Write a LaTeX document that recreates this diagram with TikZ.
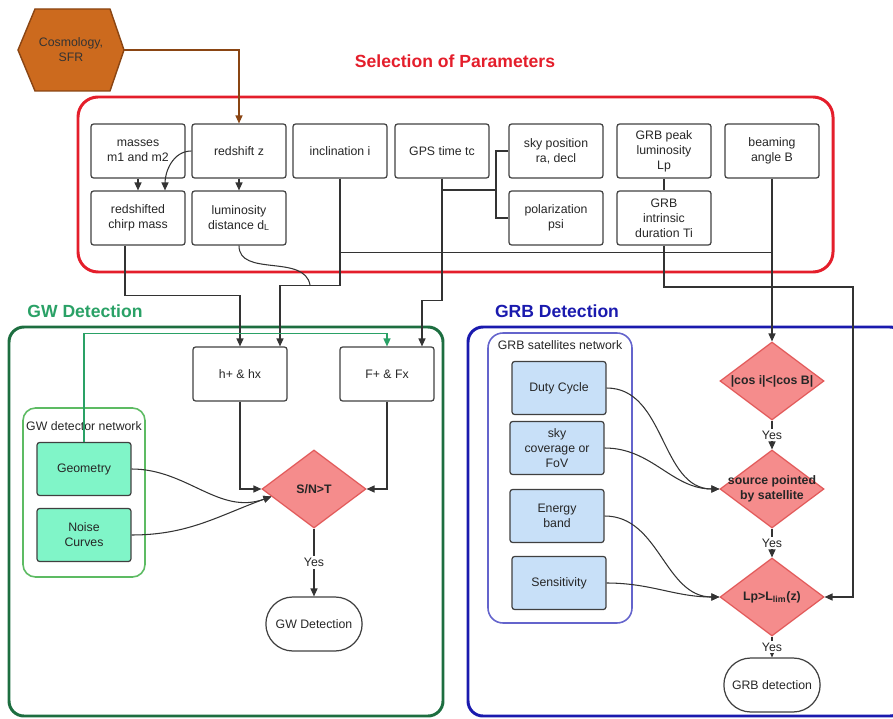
\documentclass[tikz,border=0pt]{standalone}
\usepackage{fontspec}
\setmainfont{Liberation Sans}
\usetikzlibrary{arrows.meta, positioning, shapes.geometric, shapes.misc}

\definecolor{selred}{HTML}{E41E2B}
\definecolor{gwdark}{HTML}{1D6E40}
\definecolor{gwtitle}{HTML}{2AA166}
\definecolor{gwlight}{HTML}{5DBB63}
\definecolor{grbblue}{HTML}{1A1AAE}
\definecolor{grblight}{HTML}{6464CC}
\definecolor{aquafill}{HTML}{80F5C8}
\definecolor{skyfill}{HTML}{C8E0F8}
\definecolor{decfill}{HTML}{F58C8C}
\definecolor{decline}{HTML}{E25A5A}
\definecolor{hexfill}{HTML}{CC6A1E}
\definecolor{hexline}{HTML}{8A4513}

\begin{document}
\begin{tikzpicture}[
        x=0.02cm, y=0.02cm,
        >={Triangle[length=4.5pt, width=4pt]},
        every node/.style={font=\fontsize{7}{8.5}\selectfont, align=center, text=black!85},
        param/.style={rectangle, draw=black!75, line width=0.7pt, rounded corners=1.5pt,
            minimum width=1.88cm, minimum height=1.08cm, inner sep=1pt},
        detbox/.style={param, fill=aquafill, minimum height=1.06cm},
        satbox/.style={param, fill=skyfill, minimum height=1.06cm},
        dec/.style={diamond, draw=decline, fill=decfill, line width=0.7pt,
            minimum width=2.08cm, minimum height=1.56cm, inner sep=0pt},
        dectext/.style={font=\fontsize{7}{8.5}\selectfont\bfseries},
        outcome/.style={rounded rectangle, draw=black!75, line width=0.7pt,
            minimum width=2.16cm, minimum height=1.08cm},
        wire/.style={draw=black!80, line width=0.6pt},
        yes/.style={fill=white, inner sep=1pt},
        heading/.style={font=\fontsize{10}{12}\selectfont\bfseries}
    ]
    \useasboundingbox (0,0) rectangle (893,718);

    % frames of the three blocks
    \draw[selred, line width=1.7pt, rounded corners=0.4cm] (78,446) rectangle (833,621);
    \draw[gwdark, line width=1.7pt, rounded corners=0.3cm] (9,2) rectangle (443,391);
    \draw[grbblue, line width=1.7pt, rounded corners=0.3cm] (468,2) rectangle (905,391);
    \draw[gwlight, line width=0.9pt, rounded corners=0.25cm] (23,141) rectangle (145,310);
    \draw[grblight, line width=0.9pt, rounded corners=0.3cm] (488,95) rectangle (632,385);

    \node[heading, text=selred] (seltitle) at (455,657) {Selection of Parameters};
    \node[heading, text=gwtitle] (gwtitle) at (85,407) {GW Detection};
    \node[heading, text=grbblue] (grbtitle) at (557,407) {GRB Detection};
    \node (gwnet) at (84,292) {GW detector network};
    \node (grbnet) at (560,373) {GRB satellites network};

    % cosmology hexagon
    \filldraw[fill=hexfill, draw=hexline, line width=0.8pt]
        (18,668) -- (35,709) -- (110,709) -- (124,668) -- (110,627) -- (35,627) -- cycle;
    \node[minimum width=2.12cm, minimum height=1.64cm, inner sep=0pt, text=black!80]
        (cosmo) at (71,668) {Cosmology,\\SFR};

    % parameters
    \path
        (138,567) node[param] (mass)   {masses\\m1 and m2}
        (239,567) node[param] (z)      {redshift z}
        (340,567) node[param] (incl)   {inclination i}
        (442,567) node[param] (tc)     {GPS time tc}
        (556,567) node[param] (sky)    {sky position\\ra, decl}
        (664,567) node[param] (lp)     {GRB peak\\luminosity\\Lp}
        (772,567) node[param] (beam)   {beaming\\angle B}
        (138,500) node[param] (mchirp) {redshifted\\chirp mass}
        (239,500) node[param] (dl)     {luminosity\\distance d\textsubscript{L}}
        (556,500) node[param] (psi)    {polarization\\psi}
        (664,500) node[param] (ti)     {GRB\\intrinsic\\duration Ti};

    % GW side
    \path
        (240,344) node[param] (hplus) {h+ \& hx}
        (387,344) node[param] (fplus) {F+ \& Fx}
        (84,249)  node[detbox] (geom)  {Geometry}
        (84,183)  node[detbox] (noise) {Noise\\Curves}
        (314,229) node[dec, label={[dectext]center:{S/N>T}}] (snr) {}
        (314,94)  node[outcome] (gwdet) {GW Detection};

    % GRB side
    \path
        (559,330) node[satbox] (duty) {Duty Cycle}
        (557,270) node[satbox] (fov)  {sky\\coverage or\\FoV}
        (557,202) node[satbox] (band) {Energy\\band}
        (559,135) node[satbox] (sens) {Sensitivity}
        (772,337) node[dec, label={[dectext]center:{|cos i|<|cos B|}}] (cosb) {}
        (772,229) node[dec, label={[dectext]center:{source pointed\\by satellite}}] (point) {}
        (772,121) node[dec, label={[dectext]center:{Lp>L\textsubscript{lim}(z)}}] (lim) {}
        (772,33)  node[outcome] (grbdet) {GRB detection};

    \coordinate (skyjoin) at (496,528);
    \coordinate (dljoin) at (310,433);
    \coordinate (tiright) at (853,431);

    % links between parameters
    \draw[->, hexline, line width=0.6pt] (cosmo.east) -| (z.north);
    \draw[wire, ->] (mass.south) -- (mchirp.north);
    \draw[wire, ->] (z.west) to[out=180, in=90] ([xshift=0.54cm]mchirp.north);
    \draw[wire, ->] (z.south) -- (dl.north);
    \draw[wire] (lp.south) -- (ti.north);
    \draw[wire] (sky.west) -| (skyjoin) |- (psi.west);
    \draw[wire] (tc.south) |- (skyjoin);

    % into the GW block
    \draw[wire, ->] ([xshift=-0.26cm]mchirp.south) -- ++(0,-50) -| (hplus.north);
    \draw[wire] (dl.south) to[out=-90, in=100] (dljoin);
    \draw[wire, ->] (incl.south) -- ++(0,-107) -| ([xshift=0.8cm]hplus.north);
    \draw[wire, ->] (tc.south) -- ++(0,-122) -| ([xshift=0.7cm]fplus.north);
    \draw[gwtitle, line width=0.7pt, ->] (geom.north) -- ++(0,108.5) -| (fplus.north);
    \draw[wire, ->] (hplus.south) |- (snr.west);
    \draw[wire, ->] (fplus.south) |- (snr.east);
    \draw[wire, ->] (geom.east) to[out=0, in=200] (snr.190);
    \draw[wire, ->] (noise.east) to[out=0, in=200] (snr.190);
    \draw[wire, ->] (snr.south) -- (gwdet.north) node[midway, yes] {Yes};

    % into the GRB block
    \draw[wire] (incl.south) -- ++(0,-74) -- ++(432,0);
    \draw[wire, ->] (beam.south) -- (cosb.north);
    \draw[wire, ->] (ti.south) |- (tiright) |- (lim.east);
    \draw[wire, ->] (duty.east) to[out=0, in=180] (point.west);
    \draw[wire, ->] (fov.east) to[out=0, in=180] (point.west);
    \draw[wire, ->] (band.east) to[out=0, in=180] (lim.west);
    \draw[wire, ->] (sens.east) to[out=0, in=180] (lim.west);
    \draw[wire, ->] (cosb.south) -- (point.north) node[midway, yes] {Yes};
    \draw[wire, ->] (point.south) -- (lim.north) node[midway, yes] {Yes};
    \draw[wire, ->] (lim.south) -- (grbdet.north) node[midway, yes] {Yes};
\end{tikzpicture}
\end{document}
